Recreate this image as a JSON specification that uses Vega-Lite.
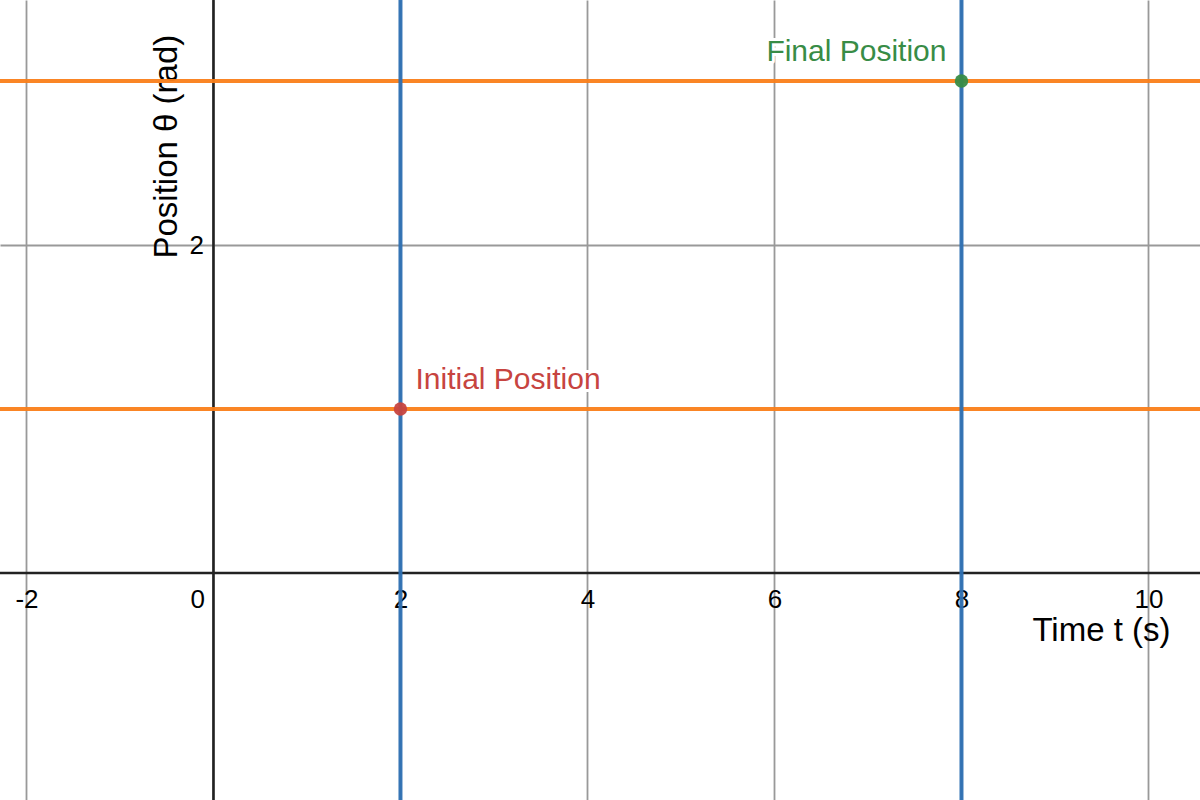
{
  "$schema": "https://vega.github.io/schema/vega-lite/v6.json",
  "width": 1200,
  "height": 800,
  "autosize": {"type": "none"},
  "padding": 0,
  "background": "white",
  "config": {"view": {"stroke": null}, "font": "Liberation Sans"},
  "datasets": {
    "axis_x": [{"t": 0}],
    "axis_y": [{"theta": 0}],
    "hlines": [{"theta": 1}, {"theta": 3}],
    "vlines": [{"t": 2}, {"t": 8}],
    "points": [
      {"t": 2, "theta": 1, "label": "Initial Position"},
      {"t": 8, "theta": 3, "label": "Final Position"}
    ]
  },
  "layer": [
    {
      "data": {"name": "axis_x"},
      "mark": {"type": "rule", "color": "#222222", "strokeWidth": 2.6},
      "encoding": {
        "x": {
          "field": "t", "type": "quantitative",
          "scale": {"domain": [-2.283, 10.551], "nice": false, "zero": false},
          "axis": {
            "title": "Time t (s)",
            "orient": "bottom",
            "offset": -227,
            "values": [-2, 0, 2, 4, 6, 8, 10],
            "labelExpr": "'' + datum.value",
            "domain": false, "ticks": false,
            "grid": true, "gridColor": "#999999", "gridWidth": 1.8, "gridOpacity": 1,
            "labelFontSize": 26, "labelColor": "#000000",
            "labelPadding": 34, "labelBaseline": "alphabetic",
            "labelAlign": {"condition": {"test": "datum.value === 0", "value": "right"}, "value": "center"},
            "labelOffset": {"condition": {"test": "datum.value === 0", "value": -9}, "value": 0},
            "labelFlush": false, "labelOverlap": false,
            "titleFontSize": 33, "titleFontWeight": "normal", "titleColor": "#000000",
            "titleX": 1170, "titleY": 67, "titleAlign": "right", "titleBaseline": "alphabetic",
            "zindex": 0
          }
        }
      }
    },
    {
      "data": {"name": "axis_y"},
      "mark": {"type": "rule", "color": "#222222", "strokeWidth": 2.6},
      "encoding": {
        "y": {
          "field": "theta", "type": "quantitative",
          "scale": {"domain": [-1.384, 3.494], "nice": false, "zero": false},
          "axis": {
            "title": "Position θ (rad)",
            "orient": "left",
            "offset": -213.5,
            "values": [2],
            "labelExpr": "'' + datum.value",
            "domain": false, "ticks": false,
            "grid": true, "gridColor": "#999999", "gridWidth": 1.8, "gridOpacity": 1,
            "labelFontSize": 26, "labelColor": "#000000",
            "labelPadding": 10, "labelAlign": "right", "labelBaseline": "middle",
            "titleFontSize": 33, "titleFontWeight": "normal", "titleColor": "#000000",
            "titleAngle": 270, "titleX": -47, "titleY": 258,
            "titleAlign": "left", "titleBaseline": "middle",
            "zindex": 0
          }
        }
      }
    },
    {
      "data": {"name": "hlines"},
      "mark": {"type": "rule", "color": "#fa7e19", "strokeWidth": 4, "opacity": 0.95},
      "encoding": {
        "y": {"field": "theta", "type": "quantitative", "scale": {"domain": [-1.384, 3.494], "nice": false, "zero": false}}
      }
    },
    {
      "data": {"name": "vlines"},
      "mark": {"type": "rule", "color": "#2d70b3", "strokeWidth": 4, "opacity": 0.95},
      "encoding": {
        "x": {"field": "t", "type": "quantitative", "scale": {"domain": [-2.283, 10.551], "nice": false, "zero": false}}
      }
    },
    {
      "data": {"name": "points"},
      "mark": {"type": "point", "filled": true, "size": 180, "opacity": 0.95},
      "encoding": {
        "x": {"field": "t", "type": "quantitative", "scale": {"domain": [-2.283, 10.551], "nice": false, "zero": false}},
        "y": {"field": "theta", "type": "quantitative", "scale": {"domain": [-1.384, 3.494], "nice": false, "zero": false}},
        "color": {"field": "label", "type": "nominal", "scale": {"domain": ["Initial Position", "Final Position"], "range": ["#c74440", "#388c46"]}, "legend": null}
      }
    },
    {
      "data": {"name": "points"},
      "transform": [{"filter": "datum.label === 'Initial Position'"}],
      "mark": {"type": "text", "align": "left", "baseline": "alphabetic", "dx": 15, "dy": -20, "fontSize": 30, "stroke": "white", "strokeWidth": 6, "strokeJoin": "round", "fill": "white"},
      "encoding": {
        "x": {"field": "t", "type": "quantitative", "scale": {"domain": [-2.283, 10.551], "nice": false, "zero": false}},
        "y": {"field": "theta", "type": "quantitative", "scale": {"domain": [-1.384, 3.494], "nice": false, "zero": false}},
        "text": {"field": "label"}
      }
    },
    {
      "data": {"name": "points"},
      "transform": [{"filter": "datum.label === 'Initial Position'"}],
      "mark": {"type": "text", "align": "left", "baseline": "alphabetic", "dx": 15, "dy": -20, "fontSize": 30},
      "encoding": {
        "x": {"field": "t", "type": "quantitative", "scale": {"domain": [-2.283, 10.551], "nice": false, "zero": false}},
        "y": {"field": "theta", "type": "quantitative", "scale": {"domain": [-1.384, 3.494], "nice": false, "zero": false}},
        "text": {"field": "label"},
        "color": {"field": "label", "type": "nominal", "scale": {"domain": ["Initial Position", "Final Position"], "range": ["#c74440", "#388c46"]}, "legend": null}
      }
    },
    {
      "data": {"name": "points"},
      "transform": [{"filter": "datum.label === 'Final Position'"}],
      "mark": {"type": "text", "align": "right", "baseline": "alphabetic", "dx": -15, "dy": -20, "fontSize": 30, "stroke": "white", "strokeWidth": 6, "strokeJoin": "round", "fill": "white"},
      "encoding": {
        "x": {"field": "t", "type": "quantitative", "scale": {"domain": [-2.283, 10.551], "nice": false, "zero": false}},
        "y": {"field": "theta", "type": "quantitative", "scale": {"domain": [-1.384, 3.494], "nice": false, "zero": false}},
        "text": {"field": "label"}
      }
    },
    {
      "data": {"name": "points"},
      "transform": [{"filter": "datum.label === 'Final Position'"}],
      "mark": {"type": "text", "align": "right", "baseline": "alphabetic", "dx": -15, "dy": -20, "fontSize": 30},
      "encoding": {
        "x": {"field": "t", "type": "quantitative", "scale": {"domain": [-2.283, 10.551], "nice": false, "zero": false}},
        "y": {"field": "theta", "type": "quantitative", "scale": {"domain": [-1.384, 3.494], "nice": false, "zero": false}},
        "text": {"field": "label"},
        "color": {"field": "label", "type": "nominal", "scale": {"domain": ["Initial Position", "Final Position"], "range": ["#c74440", "#388c46"]}, "legend": null}
      }
    }
  ]
}
